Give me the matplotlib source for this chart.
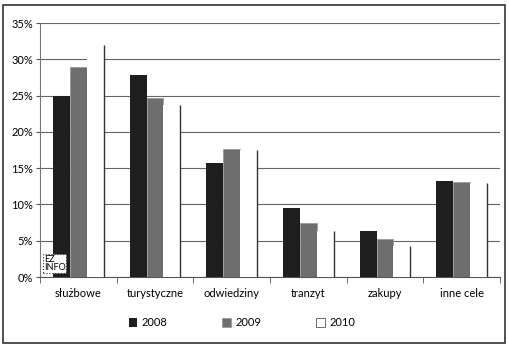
import matplotlib.pyplot as plt
from matplotlib.patches import Rectangle
import numpy as np

categories = ["służbowe", "turystyczne", "odwiedziny", "tranzyt", "zakupy", "inne cele"]
years = ["2008", "2009", "2010"]
v2008 = [25.0, 27.8, 15.7, 9.5, 6.3, 13.2]
v2009 = [29.0, 24.7, 17.6, 7.4, 5.2, 13.1]
v2010 = [32.0, 23.7, 17.5, 6.3, 4.3, 13.0]
y_ticks = [0, 5, 10, 15, 20, 25, 30, 35]

plt.rcParams['font.family'] = ['Lato', 'DejaVu Sans']

fig = plt.figure(figsize=(5.09, 3.58), dpi=100)
fig.patches.append(Rectangle((3 / 509, 1 - 343 / 358), 502 / 509, 338 / 358,
                             transform=fig.transFigure, fill=False,
                             edgecolor='#333333', linewidth=1.2))
ax = fig.add_axes([40 / 509, 1 - 277 / 358, 460 / 509, 254 / 358])

x = np.arange(len(categories))
w = 0.22
b1 = ax.bar(x - w, v2008, w, color='#1e1e1e', zorder=3, label=years[0])
b2 = ax.bar(x, v2009, w, color='#6e6e6e', edgecolor='#9a9a9a', linewidth=0.6,
            zorder=3, label=years[1])
b3 = ax.bar(x + w, v2010, w, color='white', zorder=3, label=years[2])
ax.vlines(x + 1.5 * w, 0, v2010, color='#333333', linewidth=1.0, zorder=4)

ax.set_xlim(-0.5, len(categories) - 0.5)
ax.set_ylim(0, 35)
ax.set_yticks(y_ticks)
ax.set_yticklabels([f"{t}%" for t in y_ticks], fontsize=8)
ax.set_xticks(x)
ax.set_xticklabels(categories, fontsize=8)
ax.tick_params(axis='x', length=0, pad=8)
ax.set_xticks(np.arange(-0.5, len(categories), 1), minor=True)
ax.tick_params(axis='x', which='minor', length=4, color='#555555')
ax.tick_params(axis='y', length=3, color='#555555', pad=2)

ax.yaxis.grid(True, color='#666666', linewidth=0.8, zorder=0)
for side in ['top', 'right']:
    ax.spines[side].set_visible(False)
ax.spines['left'].set_color('#777777')
ax.spines['bottom'].set_color('#555555')

# watermark box
ax.text(-0.45, 1.9, "EZ\nINFO", fontsize=6.5, ha='left', va='center', zorder=5,
        linespacing=0.85,
        bbox=dict(boxstyle='square,pad=0.1', facecolor='white',
                  edgecolor='#333333', linestyle=':', linewidth=0.8))

b3.patches[0].set_edgecolor('none')
leg = fig.legend(handles=[b1, b2, b3], loc='center', bbox_to_anchor=(0.475, 1 - 323 / 358),
                 ncol=3, frameon=False, fontsize=8, handlelength=0.8,
                 handleheight=0.8, columnspacing=4.9, handletextpad=0.4)
leg.legend_handles[2].set_edgecolor('#555555')
leg.legend_handles[2].set_linewidth(0.6)

fig.savefig("out.png", dpi=100)
